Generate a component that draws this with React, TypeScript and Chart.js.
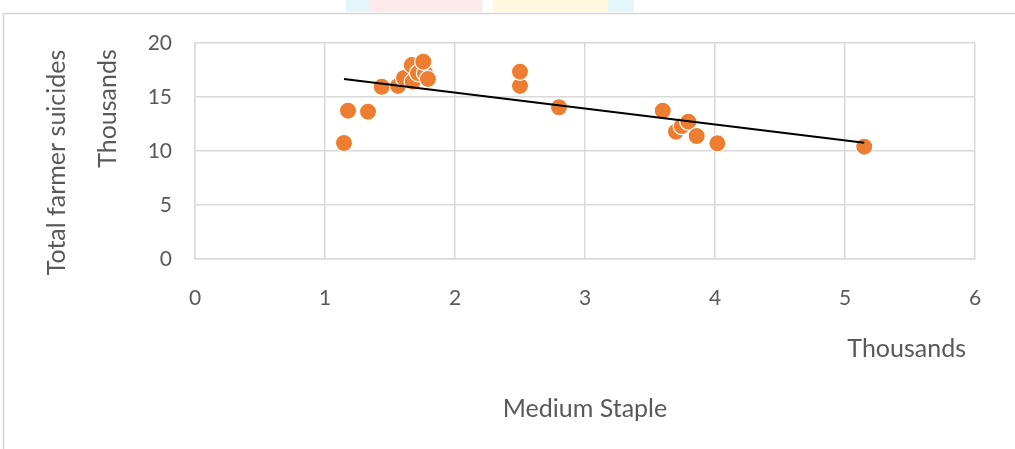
import React, { useEffect, useRef } from "react";
import { Chart, registerables } from "chart.js";

Chart.register(...registerables);

// Medium staple area (thousands) against total farmer suicides (thousands)
const mediumStaple = [
  1.146, 1.177, 1.331, 1.436, 1.562, 1.608, 1.675, 1.667, 1.715, 1.769, 1.756,
  1.792, 2.5, 2.5, 2.8, 3.598, 3.7, 3.744, 3.795, 3.859, 4.018, 5.148,
];
const farmerSuicides = [
  10.74, 13.73, 13.64, 15.95, 16.02, 16.76, 16.42, 17.96, 17.22, 17.22, 18.27,
  16.67, 16.02, 17.34, 14.05, 13.73, 11.79, 12.31, 12.71, 11.39, 10.71, 10.4,
];

// Linear trend line end points
const trendX = [1.146, 5.148];
const trendY = [16.67, 10.77];

const xTickValues = [0, 1, 2, 3, 4, 5, 6];
const yTickValues = [0, 5, 10, 15, 20];

const yTitle = "Total farmer suicides";
const xTitle = "Medium Staple";
const unitLabel = "Thousands";

const TEXT = "#595959";
const GRID = "#d9d9d9";
const ORANGE = "#ED7D31";

const decorPlugin = {
  id: "decor",
  beforeDraw(chart: any) {
    const { ctx, width, height } = chart;
    ctx.save();
    ctx.fillStyle = "#ffffff";
    ctx.fillRect(0, 0, width, height);
    // faint coloured strip along the top edge
    ctx.fillStyle = "#e3f6fa";
    ctx.fillRect(346, 0, 23, 12);
    ctx.fillRect(608, 0, 26, 12);
    ctx.fillStyle = "#fde8ec";
    ctx.fillRect(369, 0, 113, 12);
    ctx.fillStyle = "#fff7de";
    ctx.fillRect(493, 0, 115, 12);
    // outer frame
    ctx.strokeStyle = "#d4d4d4";
    ctx.lineWidth = 1.5;
    ctx.beginPath();
    ctx.moveTo(3.5, height);
    ctx.lineTo(3.5, 13.5);
    ctx.lineTo(width, 13.5);
    ctx.stroke();
    ctx.restore();
  },
  afterDraw(chart: any) {
    const { ctx, chartArea: ca } = chart;
    ctx.save();
    ctx.fillStyle = TEXT;
    ctx.font = "25px Lato";
    ctx.textBaseline = "alphabetic";

    // vertical axis title and display-unit label
    ctx.textAlign = "center";
    ctx.save();
    ctx.translate(ca.left - 130, 162.5);
    ctx.rotate(-Math.PI / 2);
    ctx.fillText(yTitle, 0, 0);
    ctx.restore();

    ctx.save();
    ctx.translate(ca.left - 79, ca.top + 65.5);
    ctx.rotate(-Math.PI / 2);
    ctx.fillText(unitLabel, 0, 0);
    ctx.restore();

    // horizontal display-unit label and axis title
    ctx.textAlign = "right";
    ctx.fillText(unitLabel, ca.right - 9, ca.bottom + 98);
    ctx.textAlign = "center";
    ctx.fillText(xTitle, (ca.left + ca.right) / 2, ca.bottom + 158);
    ctx.restore();
  },
};

export default function App() {
  const canvasRef = useRef<HTMLCanvasElement | null>(null);

  useEffect(() => {
    if (!canvasRef.current) return;
    const points = mediumStaple.map((x, i) => ({ x, y: farmerSuicides[i] }));
    const trend = trendX.map((x, i) => ({ x, y: trendY[i] }));

    const chart = new Chart(canvasRef.current, {
      type: "scatter",
      data: {
        datasets: [
          {
            type: "line",
            label: "Trend",
            data: trend,
            borderColor: "#000000",
            borderWidth: 2,
            pointRadius: 0,
            fill: false,
            order: 0,
          } as any,
          {
            label: "Farmer suicides",
            data: points,
            backgroundColor: ORANGE,
            borderColor: "#ffffff",
            borderWidth: 1.25,
            pointRadius: 8.6,
            pointHoverRadius: 8.6,
            order: 1,
          },
        ],
      },
      options: {
        responsive: false,
        animation: false,
        events: [],
        layout: { padding: { top: 43, right: 40, left: 0, bottom: 0 } },
        plugins: {
          legend: { display: false },
          tooltip: { enabled: false },
          title: { display: false },
        },
        scales: {
          x: {
            type: "linear",
            min: 0,
            max: 6,
            afterBuildTicks: (s: any) => {
              s.ticks = xTickValues.map((v) => ({ value: v }));
            },
            afterFit: (s: any) => {
              s.height = 190;
            },
            grid: { color: GRID, lineWidth: 1.5, drawTicks: false },
            border: { color: GRID, width: 1.5 },
            ticks: {
              color: TEXT,
              padding: 27,
              font: { family: "Lato", size: 21 },
              maxRotation: 0,
            },
          },
          y: {
            type: "linear",
            min: 0,
            max: 20,
            afterBuildTicks: (s: any) => {
              s.ticks = yTickValues.map((v) => ({ value: v }));
            },
            afterFit: (s: any) => {
              s.width = 195;
            },
            grid: { color: GRID, lineWidth: 1.5, drawTicks: false },
            border: { color: GRID, width: 1.5 },
            ticks: {
              color: TEXT,
              padding: 23,
              font: { family: "Lato", size: 21 },
            },
          },
        },
      },
      plugins: [decorPlugin],
    });
    return () => chart.destroy();
  }, []);

  return (
    <div style={{ position: "absolute", left: 0, top: 0, width: 1015, height: 449 }}>
      <canvas ref={canvasRef} width={1015} height={449} style={{ width: 1015, height: 449, display: "block" }} />
    </div>
  );
}
